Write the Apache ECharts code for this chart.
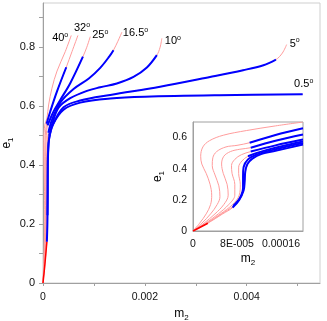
<!DOCTYPE html>
<html>
<head>
<meta charset="utf-8">
<script src="https://cdn.jsdelivr.net/npm/echarts@6/dist/echarts.min.js"></script>
<style>
  html, body { margin: 0; padding: 0; background: #fff; }
  #chart { width: 327px; height: 321px; }
</style>
</head>
<body>
<div id="chart"></div>
<script>
'use strict';

// angle labels, one per curve (40 deg ... 0.5 deg)
var angleLabels = ['40', '32', '25', '16.5', '10', '5', '0.5'];

// tick labels
var mainXLabels = ['0', '0.002', '0.004'];
var mainYLabels = ['0', '0.2', '0.4', '0.6', '0.8'];
var insetXLabels = ['0', '8E-005', '0.00016'];
var insetYLabels = ['0', '0.2', '0.4', '0.6'];

// main plot, [m2, e1]
var main40 = [[0, 0], [1.5e-5, 0.07], [3.0e-5, 0.17], [3.3e-5, 0.25], [2.4e-5, 0.37], [1.5e-5, 0.45], [2.0e-5, 0.51], [4.0e-5, 0.54], [7.8e-5, 0.56], [1.1e-4, 0.604], [1.76e-4, 0.661], [2.75e-4, 0.719], [4.37e-4, 0.785], [5.55e-4, 0.84]];
var main32 = [[0, 0], [2e-5, 0.07], [4.2e-5, 0.17], [4.9e-5, 0.23], [4.0e-5, 0.36], [3.5e-5, 0.43], [4.5e-5, 0.5], [7e-5, 0.54], [1.43e-4, 0.582], [2.75e-4, 0.65], [4.57e-4, 0.732], [5.69e-4, 0.785], [6.86e-4, 0.84]];
var main25 = [[0, 0], [2.3e-5, 0.07], [5.4e-5, 0.17], [6.4e-5, 0.23], [5.5e-5, 0.37], [5.2e-5, 0.43], [6.5e-5, 0.5], [9e-5, 0.535], [2.08e-4, 0.582], [3.39e-4, 0.621], [5.35e-4, 0.678], [7.84e-4, 0.768], [8.6e-4, 0.8], [9.28e-4, 0.836]];
var main165 = [[0, 0], [2.6e-5, 0.07], [6.3e-5, 0.17], [7.6e-5, 0.23], [7.1e-5, 0.37], [7.0e-5, 0.42], [8.5e-5, 0.48], [1.05e-4, 0.51], [1.8e-4, 0.555], [3.39e-4, 0.612], [6.0e-4, 0.658], [9.0e-4, 0.694], [1.124e-3, 0.73], [1.3e-3, 0.768], [1.384e-3, 0.79], [1.47e-3, 0.82], [1.549e-3, 0.851]];
var main10 = [[0, 0], [2.8e-5, 0.07], [7e-5, 0.17], [8.4e-5, 0.23], [8.3e-5, 0.37], [8.5e-5, 0.42], [1.0e-4, 0.47], [1.2e-4, 0.5], [1.8e-4, 0.54], [3.06e-4, 0.595], [5.35e-4, 0.627], [8.63e-4, 0.652], [1.124e-3, 0.664], [1.451e-3, 0.677], [1.777e-3, 0.699], [2.04e-3, 0.731], [2.236e-3, 0.773], [2.3e-3, 0.8], [2.334e-3, 0.83]];
var main5 = [[0, 0], [2.9e-5, 0.07], [7.3e-5, 0.17], [8.8e-5, 0.23], [9.1e-5, 0.32], [9.3e-5, 0.4], [1.0e-4, 0.45], [1.2e-4, 0.49], [1.9e-4, 0.535], [4.04e-4, 0.596], [7.31e-4, 0.619], [1.32e-3, 0.638], [2.3e-3, 0.666], [3.28e-3, 0.699], [3.93e-3, 0.722], [4.33e-3, 0.739], [4.575e-3, 0.758], [4.7e-3, 0.78], [4.785e-3, 0.809]];
var main05 = [[0, 0], [3e-5, 0.05], [5.6e-5, 0.1], [7.6e-5, 0.14], [8.6e-5, 0.2], [9.3e-5, 0.3], [9.6e-5, 0.4], [1.05e-4, 0.46], [1.3e-4, 0.5], [2.0e-4, 0.54], [4.04e-4, 0.588], [7.31e-4, 0.612], [1.32e-3, 0.626], [2.0e-3, 0.632], [3.47e-3, 0.637], [5.1e-3, 0.64]];

// inset, [m2, e1]
var inset40 = [[0, 0], [1.2e-5, 0.05], [2.4e-5, 0.11], [3.2e-5, 0.17], [3.4e-5, 0.23], [3.1e-5, 0.3], [2.4e-5, 0.37], [1.6e-5, 0.43], [1.4e-5, 0.48], [1.8e-5, 0.54], [3.0e-5, 0.58], [5.5e-5, 0.615], [9.7e-5, 0.645], [1.5e-4, 0.675], [2.0e-4, 0.7]];
var inset32 = [[0, 0], [1.6e-5, 0.05], [3.2e-5, 0.11], [4.4e-5, 0.17], [4.9e-5, 0.22], [4.7e-5, 0.29], [4.0e-5, 0.36], [3.5e-5, 0.42], [3.6e-5, 0.47], [4.3e-5, 0.51], [6e-5, 0.54], [8e-5, 0.55], [1.03e-4, 0.567], [1.5e-4, 0.617], [2.0e-4, 0.66]];
var inset25 = [[0, 0], [2e-5, 0.05], [4e-5, 0.11], [5.6e-5, 0.17], [6.4e-5, 0.23], [6.2e-5, 0.3], [5.5e-5, 0.37], [5.2e-5, 0.43], [5.6e-5, 0.48], [6.8e-5, 0.51], [8.5e-5, 0.525], [1.05e-4, 0.535], [1.5e-4, 0.58], [2.0e-4, 0.62]];
var inset165 = [[0, 0], [2.3e-5, 0.05], [4.6e-5, 0.11], [6.5e-5, 0.17], [7.6e-5, 0.23], [7.6e-5, 0.3], [7.1e-5, 0.37], [7.0e-5, 0.42], [7.6e-5, 0.46], [8.8e-5, 0.49], [1.05e-4, 0.51], [1.5e-4, 0.55], [2.0e-4, 0.587]];
var inset10 = [[0, 0], [2.5e-5, 0.05], [5e-5, 0.11], [7.2e-5, 0.17], [8.4e-5, 0.23], [8.6e-5, 0.3], [8.3e-5, 0.37], [8.3e-5, 0.41], [8.9e-5, 0.45], [1.0e-4, 0.48], [1.15e-4, 0.5], [1.5e-4, 0.535], [2.0e-4, 0.575]];
var inset5 = [[0, 0], [2.6e-5, 0.05], [5.2e-5, 0.11], [7.3e-5, 0.16], [8.5e-5, 0.21], [9.1e-5, 0.28], [9.1e-5, 0.35], [9.2e-5, 0.41], [1.0e-4, 0.46], [1.15e-4, 0.49], [1.5e-4, 0.525], [2.0e-4, 0.565]];
var inset05 = [[0, 0], [2.7e-5, 0.05], [5.4e-5, 0.11], [7.2e-5, 0.15], [8.4e-5, 0.2], [9.2e-5, 0.26], [9.4e-5, 0.32], [9.5e-5, 0.38], [9.9e-5, 0.43], [1.08e-4, 0.465], [1.25e-4, 0.495], [1.5e-4, 0.515], [2.0e-4, 0.555]];

var mainCurves = [main40, main32, main25, main165, main10, main5, main05];
var insetCurves = [inset40, inset32, inset25, inset165, inset10, inset5, inset05];

// point index ranges drawn blue / red
var mainBlue = [null, [7, 10], [7, 11], [7, 14], [7, 16], [3, 16], [3, 15]];
var mainRed = [null, null, null, null, null, null, [0, 3]];
var insetBlue = [null, [12, 14], [11, 13], [10, 12], [9, 12], [3, 11], [3, 12]];
var insetRed = [null, null, null, null, null, null, [0, 1]];

var BLUE = '#0000ff';
var PINK = '#ff9c9c';
var RED = '#ff0000';
var FONT = 'Liberation Sans, Arial, sans-serif';

// end label placement per curve: align, dx, dy
var labelPos = [['right', -3, 3], ['left', -4, -7], ['left', 2, -2], ['left', 1, 1], ['left', 3, 3], ['left', 3, -1], ['center', 1, -10]];

var series = [];

function extend(o) {
  for (var i = 1; i < arguments.length; i++) {
    for (var k in arguments[i]) o[k] = arguments[i][k];
  }
  return o;
}

function addCurve(pts, axis, red, blue, labelIdx) {
  var base = {
    type: 'line',
    xAxisIndex: axis,
    yAxisIndex: axis,
    symbol: 'none',
    smooth: 0.35,
    animation: false,
    silent: true,
    z: 3 + axis * 5
  };
  var pink = extend({}, base, {
    data: pts,
    lineStyle: { color: PINK, width: 1 }
  });
  if (labelIdx != null) {
    var lp = labelPos[labelIdx];
    pink.endLabel = {
      show: true,
      distance: 0,
      align: lp[0],
      verticalAlign: 'middle',
      offset: [lp[1], lp[2]],
      formatter: '{n|' + angleLabels[labelIdx] + '}{o|o}',
      rich: {
        n: { fontSize: 11, lineHeight: 13, color: '#000', fontFamily: FONT },
        o: { fontSize: 7, lineHeight: 7, verticalAlign: 'top', color: '#000', fontFamily: FONT }
      }
    };
  }
  series.push(pink);
  if (red) {
    series.push(extend({}, base, {
      data: pts.slice(red[0], red[1] + 1),
      lineStyle: { color: RED, width: 1.5 }
    }));
  }
  if (blue) {
    series.push(extend({}, base, {
      data: pts.slice(blue[0], blue[1] + 1),
      lineStyle: { color: BLUE, width: 2 }
    }));
  }
}

mainCurves.forEach(function (c, i) {
  addCurve(c, 0, mainRed[i], mainBlue[i], i);
});
insetCurves.forEach(function (c, i) {
  addCurve(c, 1, insetRed[i], insetBlue[i], null);
});

function subName(a, b) {
  return '{a|' + a + '}{b|' + b + '}';
}
function subRich(size) {
  return {
    a: { fontSize: size, lineHeight: size + 4, color: '#000', fontFamily: FONT },
    b: { fontSize: size - 4, lineHeight: size - 4, verticalAlign: 'bottom', color: '#000', fontFamily: FONT }
  };
}

var axisGray = '#a0a0a0';

var option = {
  animation: false,
  textStyle: { fontFamily: FONT },
  grid: [{
    left: 43, top: 3, right: 7, bottom: 38, outerBoundsMode: 'none',
    show: true, borderColor: '#cfcfcf', borderWidth: 1, backgroundColor: '#fff'
  }, {
    left: 193, top: 122, right: 24, bottom: 90, outerBoundsMode: 'none',
    show: true, borderColor: '#a0a0a0', borderWidth: 1, backgroundColor: '#fff'
  }],
  xAxis: [{
    type: 'value', gridIndex: 0, min: 0, max: 0.00544, interval: 0.001,
    axisLine: { show: true, lineStyle: { color: axisGray } },
    axisTick: { show: true, length: 3, lineStyle: { color: axisGray } },
    splitLine: { show: false },
    axisLabel: {
      fontSize: 10.5, color: '#111', margin: 9, showMaxLabel: false,
      formatter: function (v) {
        var k = Math.round(v / 0.001);
        return (k % 2 === 0 && mainXLabels[k / 2]) ? mainXLabels[k / 2] : '';
      }
    },
    name: subName('m', '2'), nameLocation: 'middle', nameGap: 23, nameMoveOverlap: false,
    nameTextStyle: { rich: subRich(12) }
  }, {
    type: 'value', gridIndex: 1, min: 0, max: 0.0002, interval: 0.00008,
    axisLine: { show: true, lineStyle: { color: axisGray } },
    axisTick: { show: false },
    splitLine: { show: false },
    axisLabel: {
      fontSize: 10.5, color: '#111', margin: 8, showMaxLabel: false,
      formatter: function (v) {
        var k = Math.round(v / 0.00008);
        return insetXLabels[k] || '';
      }
    },
    name: subName('m', '2'), nameLocation: 'middle', nameGap: 20, nameMoveOverlap: false,
    nameTextStyle: { rich: subRich(12) }
  }],
  yAxis: [{
    type: 'value', gridIndex: 0, min: 0, max: 0.95, interval: 0.1,
    axisLine: { show: true, lineStyle: { color: axisGray } },
    axisTick: { show: true, length: 4, lineStyle: { color: axisGray } },
    splitLine: { show: false },
    axisLabel: {
      fontSize: 11, color: '#111', margin: 8, showMaxLabel: false,
      formatter: function (v) {
        var k = Math.round(v / 0.1);
        return (k % 2 === 0 && mainYLabels[k / 2]) ? mainYLabels[k / 2] : '';
      }
    },
    name: subName('e', '1'), nameLocation: 'middle', nameGap: 28, nameMoveOverlap: false,
    nameTextStyle: { rich: subRich(12) }
  }, {
    type: 'value', gridIndex: 1, min: 0, max: 0.7, interval: 0.2,
    axisLine: { show: true, lineStyle: { color: axisGray } },
    axisTick: { show: false },
    splitLine: { show: false },
    axisLabel: {
      fontSize: 10.5, color: '#111', margin: 6, showMaxLabel: false,
      formatter: function (v) {
        var k = Math.round(v / 0.2);
        return insetYLabels[k] || '';
      }
    },
    name: subName('e', '1'), nameLocation: 'middle', nameGap: 27, nameMoveOverlap: false,
    nameTextStyle: { rich: subRich(12) }
  }],
  series: series
};

var myChart = echarts.init(document.getElementById('chart'), null, { renderer: 'canvas' });
myChart.setOption(option);
</script>
</body>
</html>
